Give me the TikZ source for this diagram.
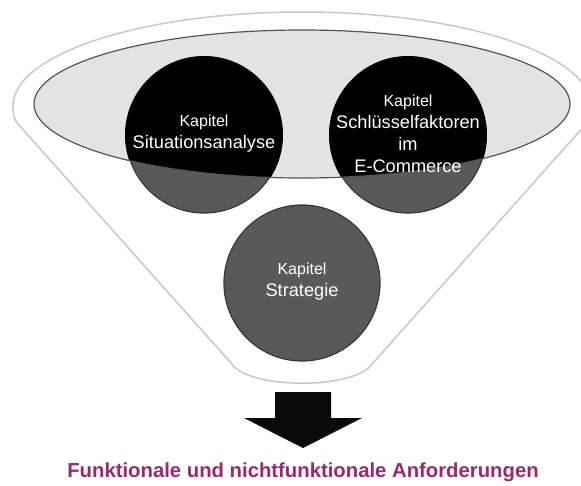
\documentclass[tikz,border=0pt]{standalone}
\usepackage{fontspec}
\setmainfont{Liberation Sans}
\usetikzlibrary{positioning}

\definecolor{funnelgray}{RGB}{200,200,200}
\definecolor{bowlgray}{RGB}{227,227,227}
\definecolor{bowledge}{RGB}{85,85,85}
\definecolor{discgray}{RGB}{89,89,89}
\definecolor{discedge}{RGB}{55,55,55}
\definecolor{reqpurple}{RGB}{155,40,110}

\begin{document}
\begin{tikzpicture}[
    x=1pt, y=-1pt,               % Pixelkoordinaten, y nach unten
    funnel/.style={draw=funnelgray, line width=1.5pt},
    bowl/.style={fill=bowlgray},
    disc/.style={circle, fill=discgray, draw=discedge, line width=1.2pt, minimum size=156pt, inner sep=0pt},
    chapter/.style={align=center, text=white, font=\fontsize{18.2}{22}\selectfont},
    result/.style={text=reqpurple, font=\fontsize{20.3}{24}\selectfont\bfseries}
  ]
  \useasboundingbox (0,0) rectangle (581,485);
  \clip (0,0) rectangle (581,485);

  % Trichter
  \draw[funnel] (231,363) -- (18,124) .. controls (13,118) and (13,112) .. (13,106)
    arc[start angle=180, end angle=360, x radius=289, y radius=94]
    .. controls (591,112) and (591,118) .. (586,124) -- (373,363)
    .. controls (356,390) and (248,390) .. (231,363);

  % Oeffnung
  \fill[bowl] (302,104) ellipse [x radius=268, y radius=74];

  % Kapitel-Kreise
  \node[disc] (situation) at (204,135) {};
  \node[disc] (keyfactors) at (408,135) {};
  \node[disc] (strategy) at (302,283) {};

  % Ueberlappung mit der Oeffnung
  \begin{scope}
    \clip (302,104) ellipse [x radius=268, y radius=74];
    \fill[black] (situation.center) circle (79);
    \fill[black] (keyfactors.center) circle (79);
  \end{scope}
  \draw[draw=bowledge, line width=1.2pt] (302,104) ellipse [x radius=268, y radius=74];

  \node[chapter] (situationtext) at (204,134) {{\fontsize{16}{22}\selectfont Kapitel}\\Situationsanalyse};
  \node[chapter] (keyfactorstext) at (408,134) {{\fontsize{16}{22}\selectfont Kapitel}\\Schlüsselfaktoren\\im\\E-Commerce};
  \node[chapter] (strategytext) at (302,282) {{\fontsize{16}{22}\selectfont Kapitel}\\Strategie};

  % Pfeil und Ergebnis
  \fill[black!96] (275,392) -- (331,392) -- (331,418) -- (362,418) -- (303,448)
    -- (244,418) -- (275,418) -- cycle;
  \node[result] (requirements) at (303,472) {Funktionale und nichtfunktionale Anforderungen};

\end{tikzpicture}
\end{document}
